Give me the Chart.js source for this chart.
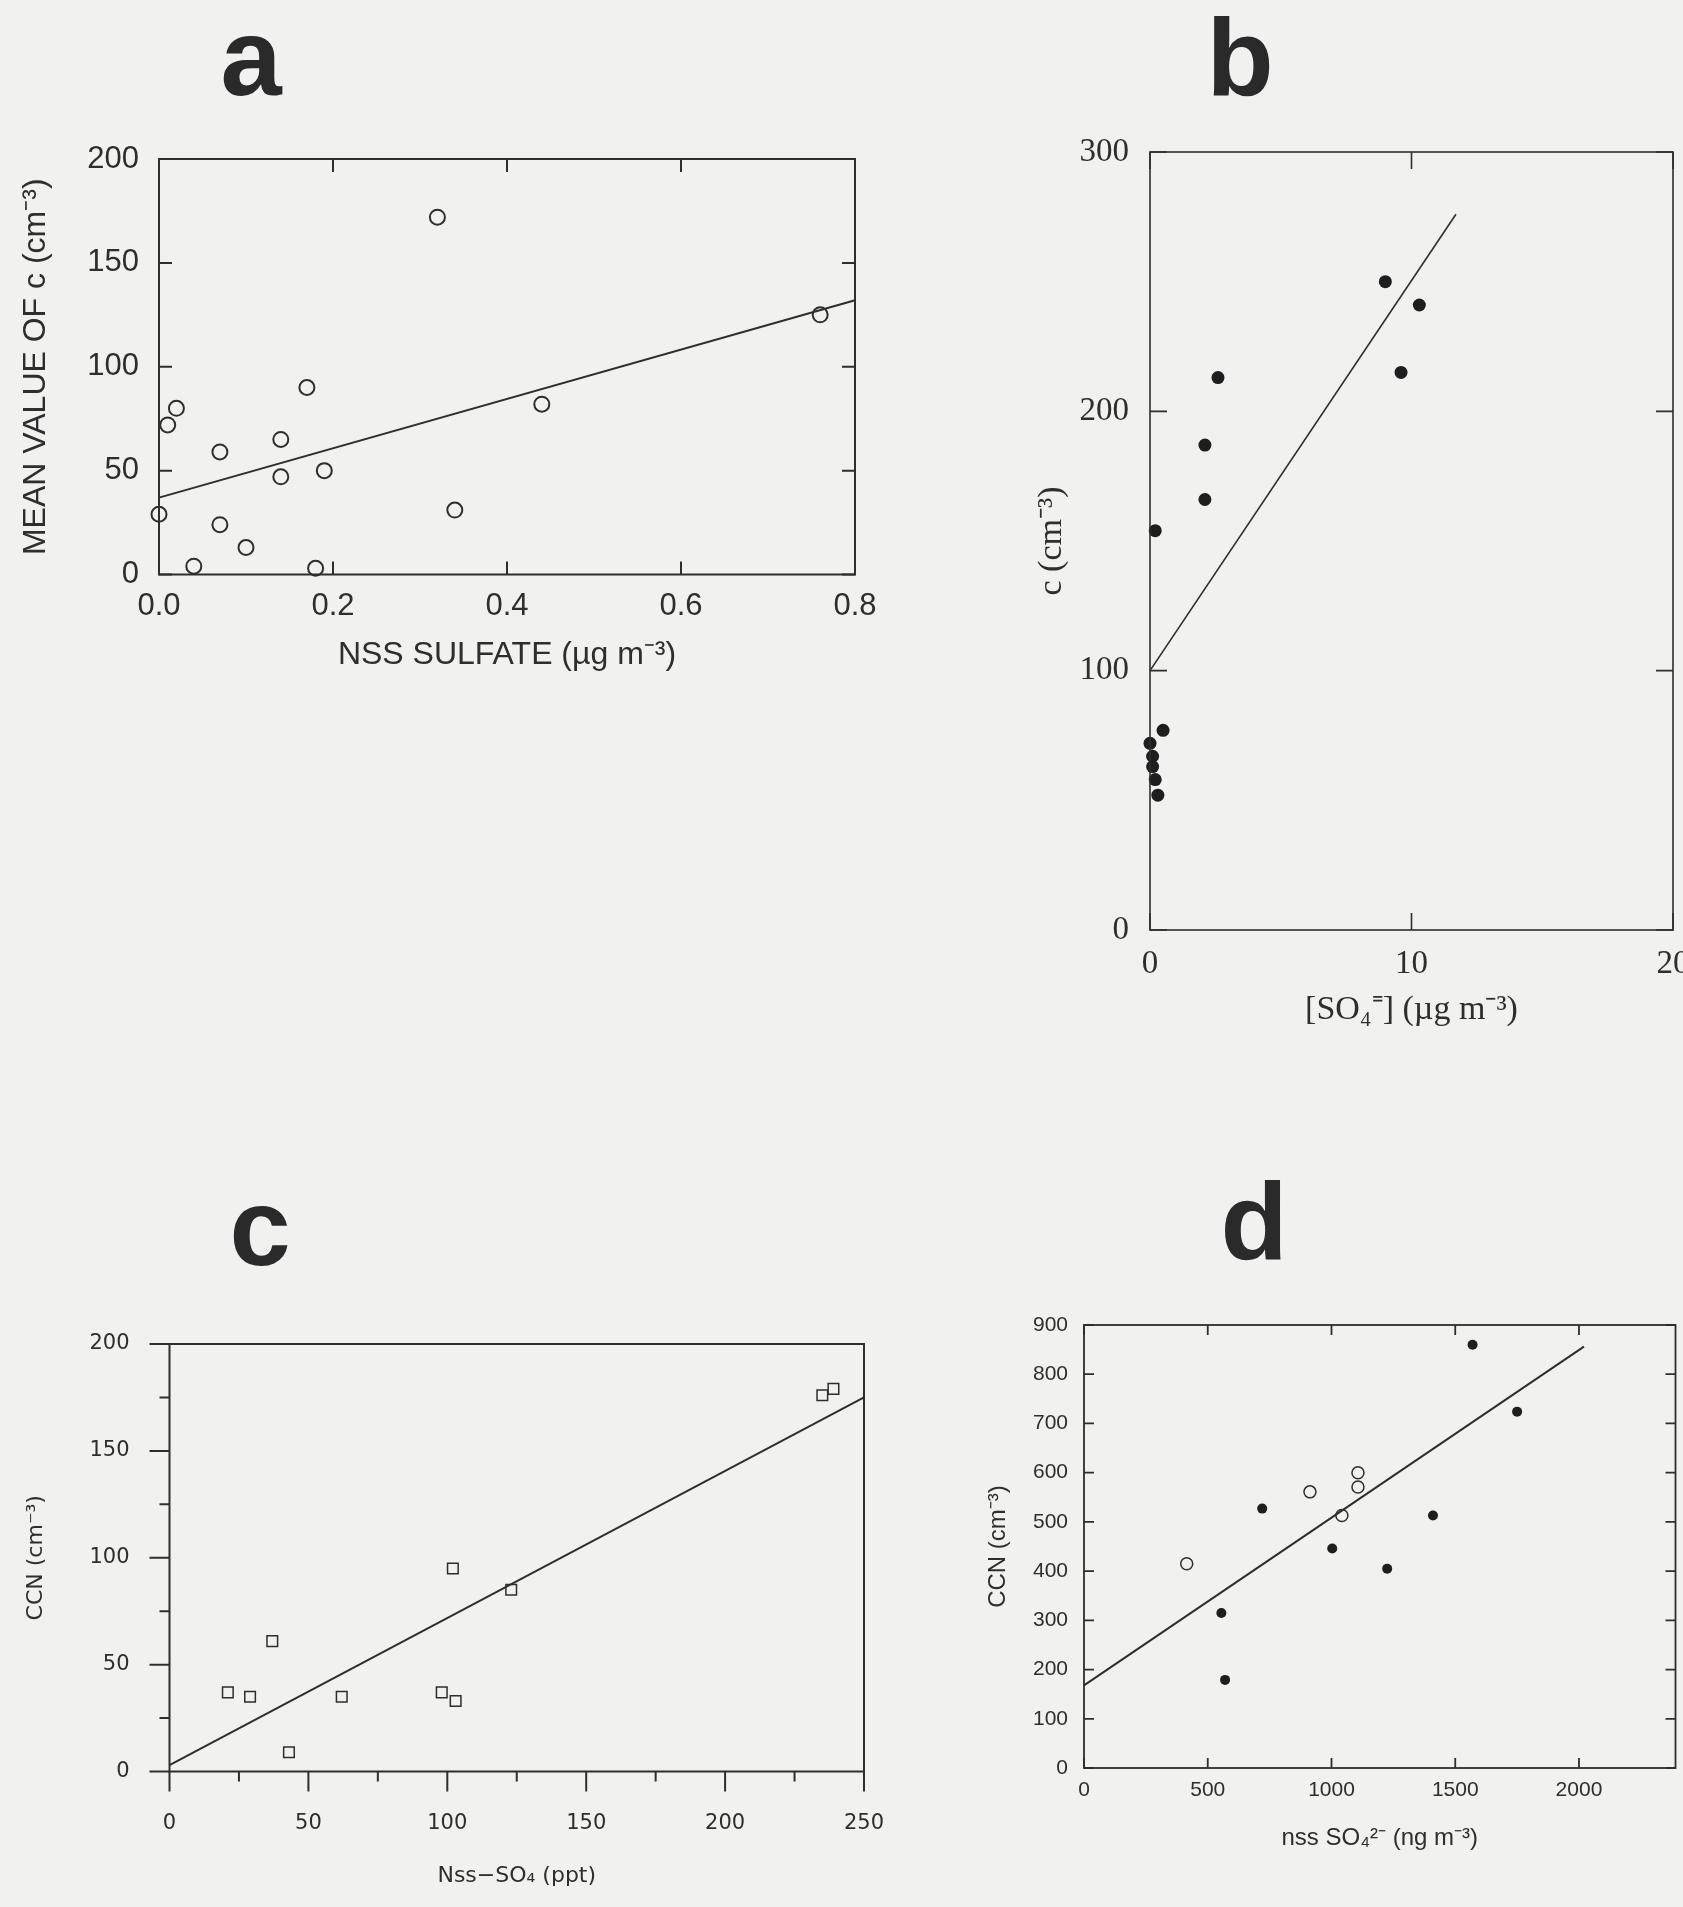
<!DOCTYPE html>
<html>
<head>
<meta charset="utf-8">
<script src="https://cdn.jsdelivr.net/npm/chart.js@4.4.1/dist/chart.umd.min.js"></script>
<style>
  html, body { margin: 0; padding: 0; }
  body { width: 1683px; height: 1907px; background: #f1f1ef; position: relative; overflow: hidden; }
  canvas { position: absolute; }
  .panel { position: absolute; width: 200px; text-align: center; font: bold 110px "Liberation Sans", Arial, sans-serif; line-height: 110px; color: #2a2a2a; }
</style>
</head>
<body>
<div class="panel" style="left:151px; top:2px;">a</div>
<div class="panel" style="left:1140px; top:2px;">b</div>
<div class="panel" style="left:160px; top:1172px;">c</div>
<div class="panel" style="left:1154px; top:1166px;">d</div>

<canvas id="chartA" width="900" height="600" style="left:0px; top:100px;"></canvas>
<canvas id="chartB" width="703" height="950" style="left:980px; top:100px;"></canvas>
<canvas id="chartC" width="900" height="617" style="left:0px; top:1290px;"></canvas>
<canvas id="chartD" width="703" height="617" style="left:980px; top:1290px;"></canvas>

<script>
// ---- panel a : mean value of c vs NSS sulfate
const aSulfate = [0.00, 0.01, 0.02, 0.04, 0.07, 0.07, 0.10, 0.14, 0.14, 0.17, 0.18, 0.19, 0.32, 0.34, 0.44, 0.76];
const aMeanC   = [29, 72, 80, 4, 24, 59, 13, 65, 47, 90, 3, 50, 172, 31, 82, 125];
const aFitX = [0, 0.8];
const aFitY = [37, 132];
const aXTicks = [0, 0.2, 0.4, 0.6, 0.8];
const aYTicks = [0, 50, 100, 150, 200];

// ---- panel b : c vs [SO4=]
const bSO4 = [0.0, 0.1, 0.1, 0.2, 0.3, 0.5, 0.2, 2.1, 2.1, 2.6, 9.0, 9.6, 10.3];
const bC   = [72, 67, 63, 58, 52, 77, 154, 166, 187, 213, 250, 215, 241];
const bFitX = [0, 11.7];
const bFitY = [100, 276];
const bXTicks = [0, 10, 20];
const bYTicks = [0, 100, 200, 300];

// ---- panel c : CCN vs Nss-SO4
const cSO4 = [21, 29, 37, 43, 62, 98, 103, 102, 123, 235, 239];
const cCCN = [37, 35, 61, 9, 35, 37, 33, 95, 85, 176, 179];
const cFitX = [0, 250];
const cFitY = [3, 175];
const cXTicks = [0, 50, 100, 150, 200, 250];
const cYTicks = [0, 50, 100, 150, 200];
const cXMinor = [25, 75, 125, 175, 225];
const cYMinor = [25, 75, 125, 175];

// ---- panel d : CCN vs nss SO4 2-
const dFilledX = [555, 570, 720, 1003, 1225, 1410, 1570, 1750];
const dFilledY = [315, 179, 527, 446, 405, 513, 860, 724];
const dOpenX = [415, 913, 1042, 1107, 1107];
const dOpenY = [415, 561, 513, 600, 571];
const dFitX = [0, 2020];
const dFitY = [168, 856];
const dXTicks = [0, 500, 1000, 1500, 2000];
const dYTicks = [0, 100, 200, 300, 400, 500, 600, 700, 800, 900];

const INK = '#2e2e2e';

function pts(xs, ys) {
  return xs.map((x, i) => ({ x: x, y: ys[i] }));
}

// box + tick marks, drawn from the scales
const frameTicks = {
  id: 'frameTicks',
  afterDraw(chart, args, o) {
    const { ctx, chartArea: a, scales } = chart;
    const x = scales.x, y = scales.y;
    const d = o.inward ? 1 : -1;
    ctx.save();
    ctx.strokeStyle = INK;
    ctx.lineWidth = o.lineWidth;
    ctx.strokeRect(a.left, a.top, a.right - a.left, a.bottom - a.top);
    ctx.beginPath();
    const xt = x.ticks.map(t => [t.value, o.len]).concat((o.xMinor || []).map(v => [v, o.minorLen]));
    const yt = y.ticks.map(t => [t.value, o.len]).concat((o.yMinor || []).map(v => [v, o.minorLen]));
    xt.forEach(([v, len]) => {
      const px = x.getPixelForValue(v);
      ctx.moveTo(px, a.bottom); ctx.lineTo(px, a.bottom - d * len);
      if (o.mirror) { ctx.moveTo(px, a.top); ctx.lineTo(px, a.top + d * len); }
    });
    yt.forEach(([v, len]) => {
      const py = y.getPixelForValue(v);
      ctx.moveTo(a.left, py); ctx.lineTo(a.left + d * len, py);
      if (o.mirror) { ctx.moveTo(a.right, py); ctx.lineTo(a.right - d * len, py); }
    });
    ctx.stroke();
    ctx.restore();
  }
};

// no extra room for labels hanging over the ends, the canvas padding decides
function noPad(s) {
  s.paddingLeft = 0; s.paddingRight = 0; s.paddingTop = 0; s.paddingBottom = 0;
}

function makeChart(id, o) {
  return new Chart(document.getElementById(id), {
    type: 'scatter',
    data: { datasets: o.datasets },
    options: {
      responsive: false,
      animation: false,
      layout: { padding: o.pad },
      plugins: { legend: { display: false }, tooltip: { enabled: false }, frameTicks: o.frame },
      scales: {
        x: {
          type: 'linear', min: o.xMin, max: o.xMax,
          afterFit: s => { s.height = o.xH; noPad(s); },
          afterBuildTicks: s => { s.ticks = o.xTicks.map(v => ({ value: v })); },
          grid: { display: false }, border: { display: false },
          ticks: { autoSkip: false, maxRotation: 0, padding: o.xTickPad, color: INK, font: o.tickFont, callback: o.xFmt || (v => v) },
          title: { display: true, text: o.xTitle, color: INK, font: o.titleFont, padding: { top: 0, bottom: o.xTitlePad } }
        },
        y: {
          type: 'linear', min: o.yMin, max: o.yMax,
          afterFit: s => { s.width = o.yW; noPad(s); },
          afterBuildTicks: s => { s.ticks = o.yTicks.map(v => ({ value: v })); },
          grid: { display: false }, border: { display: false },
          ticks: { autoSkip: false, padding: o.yTickPad, color: INK, font: o.tickFont, callback: v => v },
          title: { display: true, text: o.yTitle, color: INK, font: o.titleFont, padding: { top: o.yTitlePad, bottom: 0 } }
        }
      }
    },
    plugins: [frameTicks]
  });
}

const fitLine = (xs, ys, w) => ({
  data: pts(xs, ys), showLine: true, pointRadius: 0, borderColor: INK, borderWidth: w, clip: false
});

// a
makeChart('chartA', {
  datasets: [
    { data: pts(aSulfate, aMeanC), pointStyle: 'circle', pointRadius: 7.5, borderWidth: 2, borderColor: INK, backgroundColor: 'rgba(0,0,0,0)', clip: false },
    fitLine(aFitX, aFitY, 2)
  ],
  pad: { left: 0, top: 59, right: 45, bottom: 0 },
  xMin: 0, xMax: 0.8, yMin: 0, yMax: 200,
  xTicks: aXTicks, yTicks: aYTicks, xFmt: v => v.toFixed(1),
  xH: 125.5, yW: 159,
  xTickPad: 5, yTickPad: 12,
  tickFont: { family: '"Liberation Sans", Arial, sans-serif', size: 31 },
  titleFont: { family: '"Liberation Sans", Arial, sans-serif', size: 32 },
  xTitle: 'NSS SULFATE (µg m⁻³)', xTitlePad: 26,
  yTitle: 'MEAN VALUE OF c (cm⁻³)', yTitlePad: 17,
  frame: { inward: true, mirror: true, len: 13, lineWidth: 2 }
});

// b
makeChart('chartB', {
  datasets: [
    { data: pts(bSO4, bC), pointStyle: 'circle', pointRadius: 6.5, borderWidth: 0, backgroundColor: '#1e1e1e', clip: false },
    fitLine(bFitX, bFitY, 1.6)
  ],
  pad: { left: 0, top: 52, right: 10, bottom: 0 },
  xMin: 0, xMax: 20, yMin: 0, yMax: 300,
  xTicks: bXTicks, yTicks: bYTicks,
  xH: 120, yW: 170,
  xTickPad: 7, yTickPad: 13,
  tickFont: { family: '"Liberation Serif", "Times New Roman", serif', size: 33 },
  titleFont: { family: '"Liberation Serif", "Times New Roman", serif', size: 34 },
  xTitle: '[SO₄⁼] (µg m⁻³)', xTitlePad: 20,
  yTitle: 'c (cm⁻³)', yTitlePad: 52,
  frame: { inward: true, mirror: true, len: 17, lineWidth: 1.6 }
});

// c
makeChart('chartC', {
  datasets: [
    { data: pts(cSO4, cCCN), pointStyle: 'rect', pointRadius: 7.5, borderWidth: 1.5, borderColor: INK, backgroundColor: 'rgba(0,0,0,0)', clip: false },
    fitLine(cFitX, cFitY, 2)
  ],
  pad: { left: 0, top: 54, right: 36, bottom: 0 },
  xMin: 0, xMax: 250, yMin: 0, yMax: 200,
  xTicks: cXTicks, yTicks: cYTicks,
  xH: 135.5, yW: 169.5,
  xTickPad: 31, yTickPad: 32,
  tickFont: { family: '"DejaVu Sans", sans-serif', size: 21 },
  titleFont: { family: '"DejaVu Sans", sans-serif', size: 22 },
  xTitle: 'Nss−SO₄ (ppt)', xTitlePad: 18,
  yTitle: 'CCN (cm⁻³)', yTitlePad: 23,
  frame: { inward: false, mirror: false, len: 20, minorLen: 10, lineWidth: 2, xMinor: cXMinor, yMinor: cYMinor }
});

// d
makeChart('chartD', {
  datasets: [
    { data: pts(dFilledX, dFilledY), pointStyle: 'circle', pointRadius: 5, borderWidth: 0, backgroundColor: '#1e1e1e', clip: false },
    { data: pts(dOpenX, dOpenY), pointStyle: 'circle', pointRadius: 6, borderWidth: 1.5, borderColor: INK, backgroundColor: 'rgba(0,0,0,0)', clip: false },
    fitLine(dFitX, dFitY, 2)
  ],
  pad: { left: 0, top: 35, right: 3, bottom: 0 },
  xMin: 0, xMax: 2390, yMin: 0, yMax: 900,
  xTicks: dXTicks, yTicks: dYTicks,
  xH: 139, yW: 104,
  xTickPad: 2, yTickPad: 8,
  tickFont: { family: '"Liberation Sans", Arial, sans-serif', size: 21 },
  titleFont: { family: '"Liberation Sans", Arial, sans-serif', size: 24 },
  xTitle: 'nss SO₄²⁻ (ng m⁻³)', xTitlePad: 54,
  yTitle: 'CCN (cm⁻³)', yTitlePad: 4,
  frame: { inward: true, mirror: true, len: 10, lineWidth: 1.8 }
});
</script>
</body>
</html>
